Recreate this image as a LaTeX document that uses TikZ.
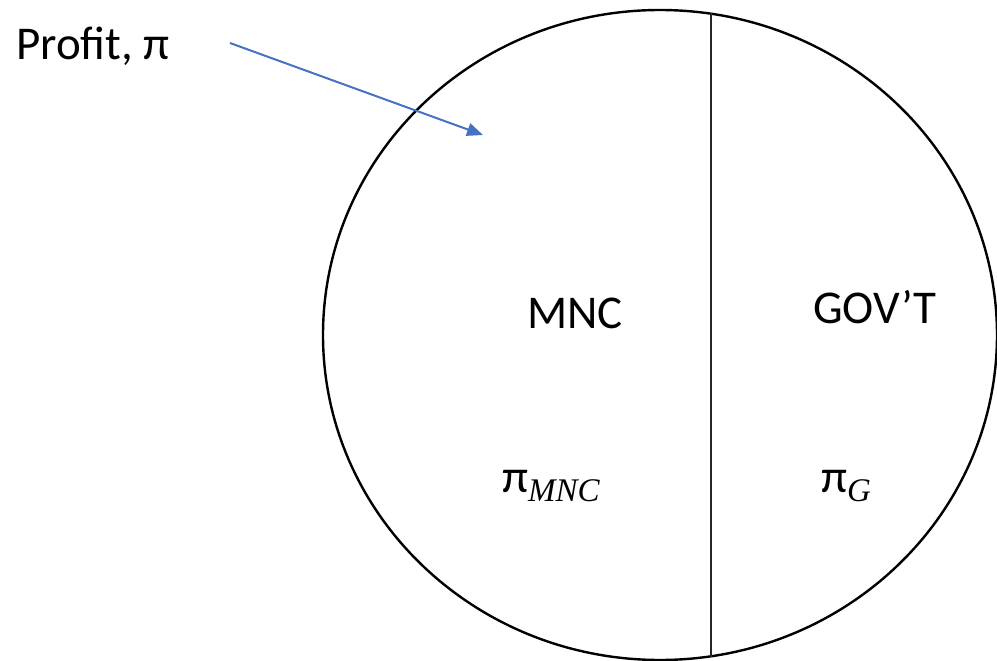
\documentclass[tikz,border=0pt]{standalone}
\usepackage{fontspec}
\setmainfont{Carlito}
\newfontfamily\subserif{Liberation Serif}
\usetikzlibrary{arrows.meta}
\definecolor{arrowblue}{HTML}{4472C4}
\newcommand{\lowsub}[1]{\raisebox{-9pt}{\fontsize{33}{38}\selectfont\subserif\itshape #1}}
\tikzset{
  lbl/.style={anchor=base west, inner sep=0pt, font=\fontsize{47}{56}\selectfont},
  outline/.style={draw=black, line width=2.4pt},
  divider/.style={draw=black!85, line width=1.1pt},
  pointer/.style={draw=arrowblue, line width=2pt, -{Triangle[length=16pt,width=13pt]}}
}
\begin{document}
\begin{tikzpicture}[x=1pt,y=-1pt]
\useasboundingbox (0,0) rectangle (997,661);
% outline
\draw[outline] (660,335) ellipse [x radius=337, y radius=325];
\coordinate (divtop) at (711,13.5);
\coordinate (divbot) at (711,656.5);
\draw[divider] (divtop) -- (divbot);
% labels
\node[lbl] (profit) at (16,60) {Profit, π};
\node[lbl] (mnc) at (527,328) {MNC};
\node[lbl] (gov) at (813,323) {GOV’T};
\node[lbl] (pimnc) at (502,492) {π\lowsub{MNC}};
\node[lbl] (pig) at (821,492) {π\lowsub{G}};
% arrow
\coordinate (arrS) at (230,43);
\coordinate (arrE) at (483,135);
\draw[pointer] (arrS) -- (arrE);
\end{tikzpicture}
\end{document}
